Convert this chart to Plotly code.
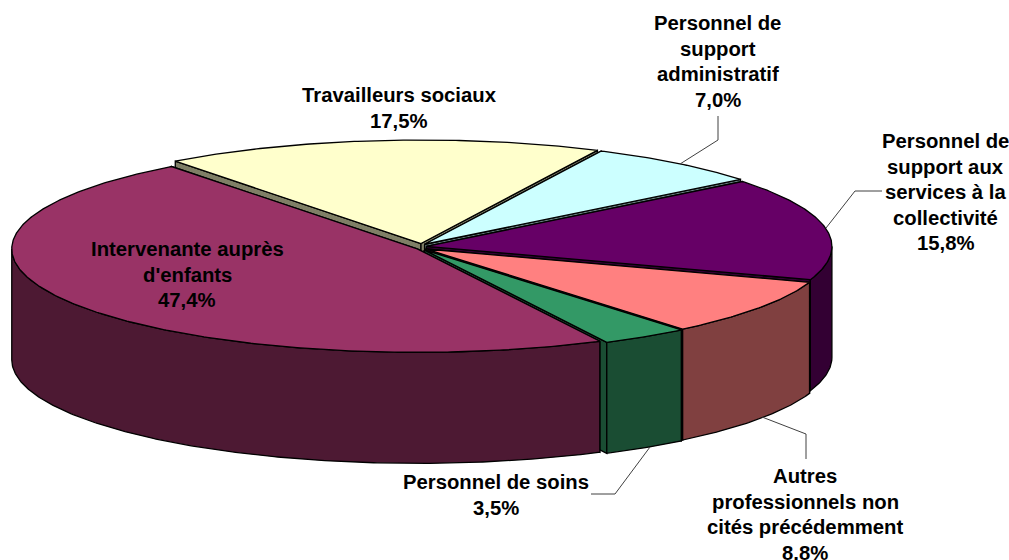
import numpy as np
import plotly.graph_objects as go

categories = ["Travailleurs sociaux", "Personnel de support administratif",
              "Personnel de support aux services à la collectivité",
              "Autres professionnels non cités précédemment",
              "Personnel de soins", "Intervenante auprès d'enfants"]
values = [17.5, 7.0, 15.8, 8.8, 3.5, 47.4]
top_colors = ["#FFFFCC", "#CCFFFF", "#660066", "#FF8080", "#339966", "#993366"]
side_colors = ["#7F7F66", "#667F7F", "#330033", "#804040", "#1A4D33", "#4D1933"]

CX, CY, RX, RY, DEPTH, EXPLODE, START, WARP = 421.5, 247.0, 405.5, 103.5, 111.0, 5.0, 127.3, 1.2


def warp(cum_deg):
    """Small perspective correction of the swept angle, as in a tilted 3-D pie."""
    return START - cum_deg - WARP * np.sin(np.radians(cum_deg) / 2) ** 4


def arc(t0, t1, ox, oy, dz=0.0):
    t = np.radians(np.linspace(t0, t1, max(2, int(abs(t1 - t0) * 2) + 2)))
    return ox + RX * np.cos(t), oy - RY * np.sin(t) + dz


def poly(xs, ys, fill, width=1.3):
    return go.Scatter(x=list(xs) + [xs[0]], y=list(ys) + [ys[0]], mode="lines", fill="toself",
                      fillcolor=fill, line=dict(color="black", width=width),
                      hoverinfo="skip", showlegend=False)


fig = go.Figure()
cum = 0.0
for name, val, top, side in zip(categories, values, top_colors, side_colors):
    a0, a1 = warp(cum), warp(cum + val * 3.6)
    cum += val * 3.6
    mid = np.radians((a0 + a1) / 2)
    ox = CX + EXPLODE * np.cos(mid)
    oy = CY - EXPLODE * 0.7 * np.sin(mid)
    for ang in (a0, a1):
        ex, ey = arc(ang, ang, ox, oy)
        fig.add_trace(poly([ox, ex[0], ex[0], ox], [oy, ey[0], ey[0] + DEPTH, oy + DEPTH], side))
    for k in (0, -360):
        l, h = max(a1, -180 + k), min(a0, 0 + k)
        if h > l:
            tx, ty = arc(h, l, ox, oy)
            bx, by = arc(l, h, ox, oy, DEPTH)
            fig.add_trace(poly(np.r_[tx, bx], np.r_[ty, by], side))
    tx, ty = arc(a0, a1, ox, oy)
    fig.add_trace(poly(np.r_[ox, tx], np.r_[oy, ty], top))

leaders = [
    "M718,116 L718,140 L680,164",
    "M882,191 L855,191 L826,228",
    "M762,417 L806,434 L806,459",
    "M591,494 L615,494 L650,447",
]
shapes = [dict(type="path", path=p, xref="x", yref="y", line=dict(color="#404040", width=1)) for p in leaders]

labels = [
    (["Travailleurs sociaux", "17,5%"], 399, 95),
    (["Personnel de", "support", "administratif", "7,0%"], 717.5, 23),
    (["Personnel de", "support aux", "services à la", "collectivité", "15,8%"], 945.5, 141),
    (["Autres", "professionnels non", "cités précédemment", "8,8%"], 805, 476),
    (["Personnel de soins", "3,5%"], 496, 482),
    (["Intervenante auprès", "d'enfants", "47,4%"], 187, 249),
]
LINE_STEP = 25.6
annotations = [dict(text="<b>" + line + "</b>", x=x, y=y + i * LINE_STEP, xref="x", yref="y",
                    showarrow=False, align="center",
                    font=dict(family="Liberation Sans", size=20.3, color="black"))
               for lines, x, y in labels for i, line in enumerate(lines)]

fig.update_layout(
    width=1009, height=560, margin=dict(l=0, r=0, t=0, b=0),
    paper_bgcolor="white", plot_bgcolor="white", showlegend=False,
    xaxis=dict(range=[0, 1009], visible=False, fixedrange=True),
    yaxis=dict(range=[560, 0], visible=False, fixedrange=True),
    shapes=shapes, annotations=annotations,
)
fig.write_html("out.html", config=dict(displayModeBar=False),
               post_script="document.body.style.margin='0';")
